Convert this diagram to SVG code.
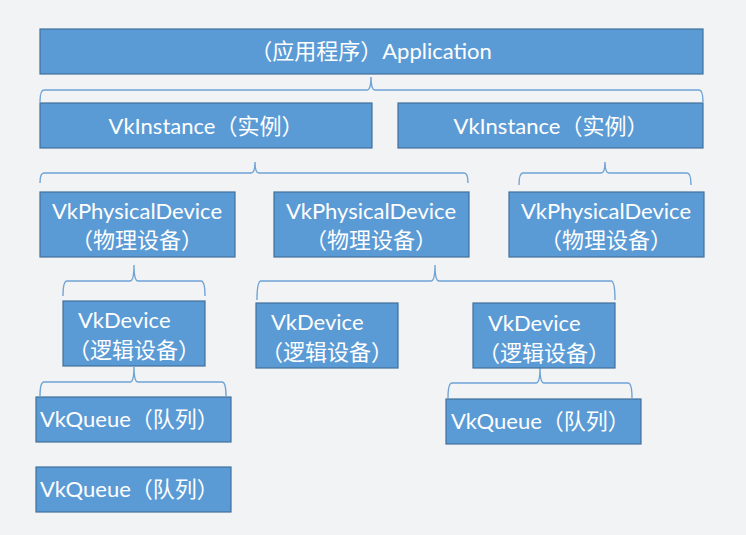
<svg xmlns="http://www.w3.org/2000/svg" width="746" height="535" viewBox="0 0 746 535">
<style>
.box{fill:#5b9bd5;stroke:#41719c;stroke-width:1.2}
.t{font-family:Lato,"Noto Sans CJK SC",sans-serif;font-size:22px;fill:#ffffff}
.c{text-anchor:middle}
.br{fill:none;stroke:#6fa3d6;stroke-width:1.4}
</style>
<rect width="746" height="535" fill="#f2f3f4"/>
<g id="connectors">
<path class="br" d="M40,102 Q40,90 44,90 L367,90 Q371,90 371,77 Q371,90 375,90 L699,90 Q703,90 703,102"/>
<path class="br" d="M40,183 Q40,173 44,173 L251,173 Q255,173 255,162 Q255,173 259,173 L464,173 Q468,173 468,183"/>
<path class="br" d="M519,185 Q519,173 523,173 L601,173 Q605,173 605,162 Q605,173 609,173 L687,173 Q691,173 691,185"/>
<path class="br" d="M63,296 Q63,281 67,281 L130,281 Q134,281 134,265 Q134,281 138,281 L201,281 Q205,281 205,296"/>
<path class="br" d="M257,300 Q257,281 261,281 L431,281 Q435,281 435,265 Q435,281 439,281 L611,281 Q615,281 615,300"/>
<path class="br" d="M40,396 Q40,382 44,382 L130,382 Q134,382 134,367 Q134,382 138,382 L222,382 Q226,382 226,396"/>
<path class="br" d="M448,398 Q448,383 452,383 L536,383 Q540,383 540,368 Q540,383 544,383 L628,383 Q632,383 632,398"/>
</g>
<g id="app"><rect class="box" x="40" y="29" width="663" height="45"/><text class="t c" x="371" y="59">（应用程序）Application</text></g>
<g id="inst1"><rect class="box" x="40" y="103" width="332" height="45"/><text class="t c" x="206" y="134">VkInstance（实例）</text></g>
<g id="inst2"><rect class="box" x="398" y="103" width="305" height="45"/><text class="t c" x="551" y="134">VkInstance（实例）</text></g>
<g id="pd1"><rect class="box" x="40" y="192" width="195" height="65"/><text class="t c" x="137" y="219">VkPhysicalDevice</text><text class="t c" x="137" y="248">（物理设备）</text></g>
<g id="pd2"><rect class="box" x="274" y="192" width="195" height="65"/><text class="t c" x="371" y="219">VkPhysicalDevice</text><text class="t c" x="371" y="248">（物理设备）</text></g>
<g id="pd3"><rect class="box" x="509" y="192" width="195" height="65"/><text class="t c" x="606" y="219">VkPhysicalDevice</text><text class="t c" x="606" y="248">（物理设备）</text></g>
<g id="dev1"><rect class="box" x="63" y="301" width="142" height="65"/><text class="t" x="78" y="328">VkDevice</text><text class="t c" x="134" y="358">（逻辑设备）</text></g>
<g id="dev2"><rect class="box" x="256" y="303" width="142" height="65"/><text class="t" x="271" y="330">VkDevice</text><text class="t c" x="327" y="360">（逻辑设备）</text></g>
<g id="dev3"><rect class="box" x="473" y="303" width="142" height="65"/><text class="t" x="488" y="331">VkDevice</text><text class="t c" x="544" y="361">（逻辑设备）</text></g>
<g id="q1"><rect class="box" x="36" y="397" width="195" height="45"/><text class="t" x="40" y="427">VkQueue（队列）</text></g>
<g id="q2"><rect class="box" x="36" y="467" width="195" height="45"/><text class="t" x="40" y="497">VkQueue（队列）</text></g>
<g id="q3"><rect class="box" x="446" y="399" width="195" height="45"/><text class="t" x="451" y="429">VkQueue（队列）</text></g>
</svg>
